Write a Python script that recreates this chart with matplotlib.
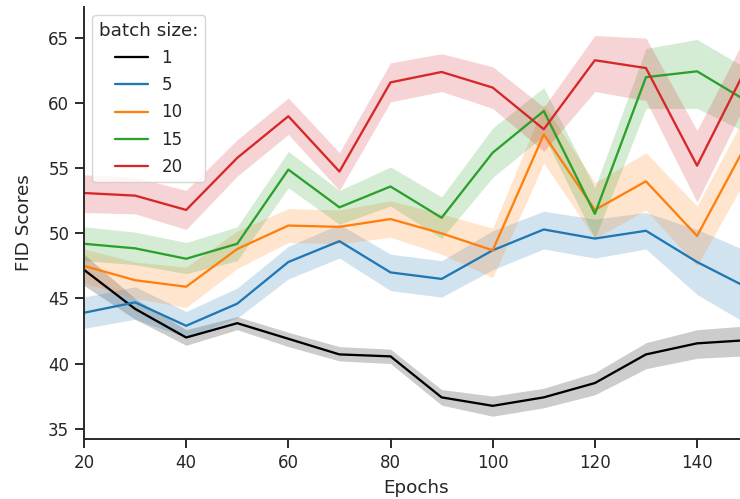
import matplotlib
matplotlib.use("Agg")
import matplotlib.pyplot as plt
import seaborn as sns
import numpy as np

epochs = [20, 30, 40, 50, 60, 70, 80, 90, 100, 110, 120, 130, 140, 150]
batch_sizes = ["1", "5", "10", "15", "20"]
colors = ["black", "#1f77b4", "#ff7f0e", "#2ca02c", "#d62728"]

mean_1 = [47.2, 44.2, 42.0, 43.1, 41.9, 40.7, 40.55, 37.4, 36.75, 37.4, 38.5, 40.7, 41.55, 41.8]
low_1 = [46.0, 43.4, 41.4, 42.6, 41.3, 40.2, 40.0, 36.8, 35.95, 36.6, 37.6, 39.6, 40.4, 40.6]
high_1 = [48.4, 45.0, 42.6, 43.6, 42.4, 41.3, 41.1, 38.0, 37.5, 38.1, 39.3, 41.6, 42.6, 42.9]

mean_5 = [43.9, 44.7, 42.9, 44.6, 47.8, 49.4, 47.0, 46.5, 48.7, 50.3, 49.6, 50.2, 47.8, 45.8]
low_5 = [42.7, 43.4, 42.0, 43.5, 46.5, 48.1, 45.6, 45.1, 47.2, 48.8, 48.1, 48.8, 45.3, 43.0]
high_5 = [45.1, 45.9, 44.0, 45.8, 49.0, 50.7, 48.4, 47.9, 50.2, 51.7, 51.1, 51.6, 50.3, 48.6]

mean_10 = [47.5, 46.4, 45.9, 48.8, 50.6, 50.5, 51.1, 50.0, 48.7, 57.6, 51.8, 54.0, 49.8, 57.1]
low_10 = [46.2, 45.0, 44.3, 47.3, 49.3, 49.2, 49.7, 48.4, 46.6, 55.4, 49.6, 51.8, 47.5, 54.5]
high_10 = [48.8, 47.8, 47.4, 50.2, 51.9, 51.8, 52.5, 51.5, 50.4, 59.9, 53.9, 56.2, 52.1, 59.5]

mean_15 = [49.2, 48.85, 48.05, 49.2, 54.9, 52.0, 53.6, 51.2, 56.2, 59.4, 51.5, 62.0, 62.45, 60.1]
low_15 = [47.9, 47.6, 46.9, 47.9, 53.5, 50.7, 52.1, 49.6, 54.3, 57.5, 49.6, 59.6, 59.6, 57.7]
high_15 = [50.5, 50.1, 49.3, 50.5, 56.3, 53.3, 55.1, 52.8, 58.1, 61.2, 53.5, 64.2, 64.9, 62.6]

mean_20 = [53.1, 52.9, 51.8, 55.8, 59.0, 54.75, 61.6, 62.4, 61.2, 58.0, 63.3, 62.7, 55.2, 63.0]
low_20 = [51.6, 51.5, 50.3, 54.4, 57.6, 53.3, 60.1, 60.9, 59.6, 56.3, 60.9, 60.2, 52.4, 60.4]
high_20 = [54.5, 54.3, 53.3, 57.2, 60.4, 56.2, 63.1, 63.8, 62.8, 59.7, 65.2, 65.0, 57.9, 65.5]

means = [mean_1, mean_5, mean_10, mean_15, mean_20]
lows = [low_1, low_5, low_10, low_15, low_20]
highs = [high_1, high_5, high_10, high_15, high_20]

sns.set_style("ticks")
plt.rcParams['font.family'] = ['DejaVu Sans']

fig = plt.figure(figsize=(7.40, 4.99), dpi=100)
ax = fig.add_axes([0.1135, 0.1202, 0.8975, 0.866])

for lab, c, m, lo, hi in zip(batch_sizes, colors, means, lows, highs):
    ax.plot(epochs, m, color=c, lw=1.65, label=lab)
    ax.fill_between(epochs, lo, hi, color=c, alpha=0.2, lw=0)

ax.set_xlim(20, 150)
ax.set_ylim(34.2, 67.4)
ax.set_xticks([20, 40, 60, 80, 100, 120, 140])
ax.set_yticks([35, 40, 45, 50, 55, 60, 65])
ax.tick_params(labelsize=12, length=6.6, width=1.375, pad=4, colors=".15")
for s in ax.spines.values():
    s.set_linewidth(1.375)
sns.despine(ax=ax)
ax.set_xlabel("Epochs", fontsize=13.2, color=".15", labelpad=5)
ax.set_ylabel("FID Scores", fontsize=13.2, color=".15", labelpad=11)
leg = ax.legend(title="batch size:", loc="upper left", fontsize=12,
                title_fontsize=13.2, handlelength=2.0, labelspacing=0.55)

fig.savefig("out.png", dpi=100)
